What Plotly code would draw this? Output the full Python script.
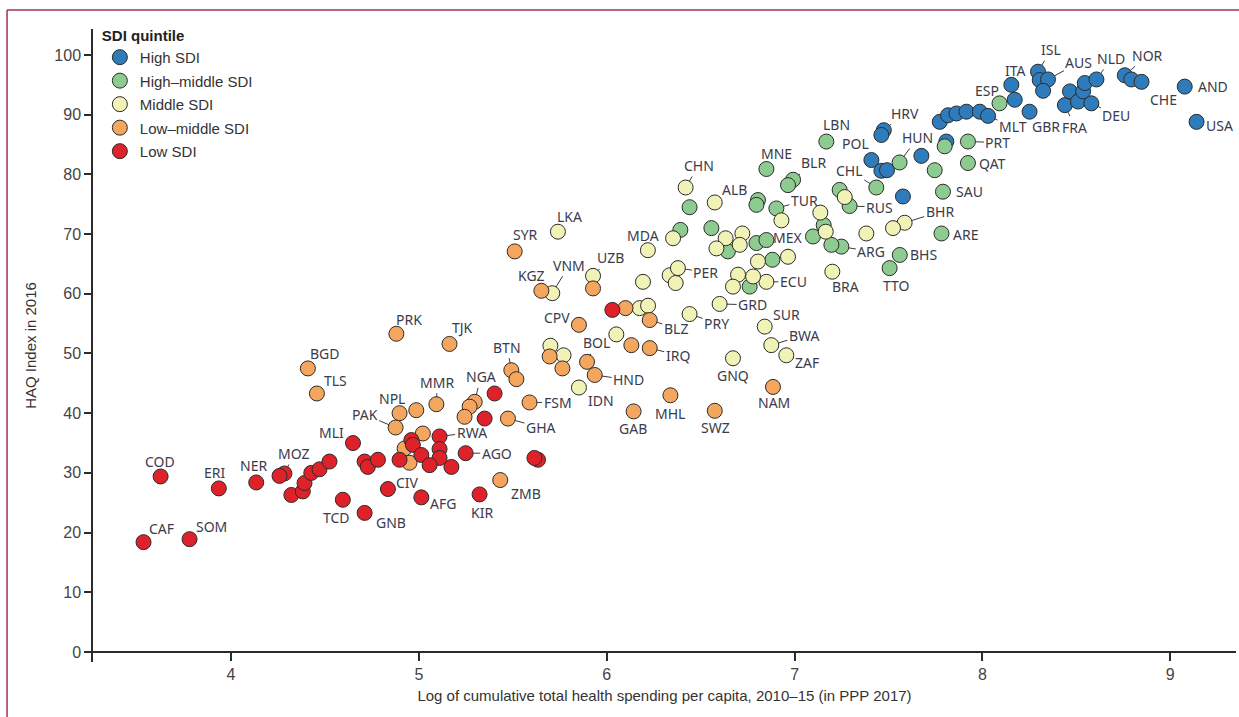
import plotly.graph_objects as go

# ---- HAQ Index vs. log cumulative health spending, by SDI quintile ----

high_codes = ["HRV", "", "POL", "", "", "", "", "", "", "", "", "", "", "MLT", "ITA", "", "GBR",
              "ISL", "", "AUS", "", "FRA", "", "", "", "", "DEU", "NLD", "NOR", "", "CHE", "AND", "USA"]
high_x = [7.475, 7.462, 7.409, 7.462, 7.492, 7.577, 7.675, 7.808, 7.773, 7.817, 7.862, 7.915, 7.986,
          8.030, 8.154, 8.172, 8.251, 8.296, 8.305, 8.349, 8.323, 8.439, 8.466, 8.509, 8.536, 8.545,
          8.580, 8.607, 8.758, 8.793, 8.847, 9.077, 9.140]
high_y = [87.4, 86.6, 82.4, 80.6, 80.7, 76.3, 83.1, 85.5, 88.8, 89.9, 90.2, 90.5, 90.5,
          89.8, 95.0, 92.5, 90.5, 97.2, 95.8, 95.9, 94.0, 91.6, 93.9, 92.2, 93.9, 95.3,
          91.9, 95.9, 96.6, 95.9, 95.5, 94.7, 88.8]

hm_codes = ["LBN", "MNE", "BLR", "", "", "", "TUR", "", "", "", "", "", "", "", "", "ARG", "",
            "", "", "CHL", "", "RUS", "HUN", "", "PRT", "QAT", "", "SAU", "ARE", "BHS", "TTO", "ESP"]
hm_x = [7.169, 6.850, 6.992, 6.965, 6.805, 6.797, 6.903, 6.441, 6.392, 6.557, 6.645, 6.797, 6.850,
        7.098, 7.155, 7.249, 7.196, 6.882, 6.761, 7.435, 7.240, 7.293, 7.559, 7.799, 7.923, 7.923,
        7.746, 7.790, 7.782, 7.560, 7.506, 8.091]
hm_y = [85.5, 80.9, 79.1, 78.2, 75.7, 74.9, 74.3, 74.5, 70.7, 71.0, 67.1, 68.5, 69.0,
        69.6, 71.5, 67.9, 68.2, 65.7, 61.2, 77.8, 77.4, 74.7, 82.0, 84.7, 85.5, 81.9,
        80.7, 77.1, 70.1, 66.5, 64.3, 91.9]

mid_codes = ["LKA", "VNM", "UZB", "", "", "IDN", "", "", "", "", "MDA", "", "CHN", "ALB", "", "PER",
             "", "PRY", "GRD", "GNQ", "SUR", "BWA", "ZAF", "", "", "", "", "", "MEX", "", "", "",
             "BRA", "ECU", "", "", "", "", "BHR", "", ""]
mid_x = [5.740, 5.710, 5.927, 5.700, 5.770, 5.852, 6.051, 6.175, 6.220, 6.193, 6.219, 6.353, 6.420,
         6.575, 6.335, 6.379, 6.367, 6.441, 6.601, 6.672, 6.841, 6.876, 6.956, 6.633, 6.584, 6.722,
         6.708, 6.805, 6.965, 6.930, 7.137, 7.166, 7.201, 6.850, 6.779, 6.699, 6.672, 7.267, 7.586,
         7.524, 7.382]
mid_y = [70.4, 60.1, 63.0, 51.3, 49.7, 44.3, 53.2, 57.6, 58.0, 62.0, 67.3, 69.3, 77.8,
         75.3, 63.1, 64.3, 61.8, 56.6, 58.3, 49.2, 54.5, 51.4, 49.7, 69.3, 67.6, 70.1,
         68.2, 65.4, 66.2, 72.3, 73.6, 70.4, 63.7, 62.0, 62.9, 63.2, 61.2, 76.2, 71.9,
         71.0, 70.1]

lm_codes = ["SYR", "KGZ", "", "CPV", "", "BLZ", "", "IRQ", "BOL", "HND", "", "", "BTN", "", "FSM",
            "GHA", "NGA", "", "", "MMR", "NPL", "", "PAK", "", "", "", "ZMB", "GAB", "MHL", "SWZ",
            "NAM", "PRK", "TJK", "BGD", "TLS"]
lm_x = [5.510, 5.652, 5.927, 5.852, 6.100, 6.229, 6.131, 6.229, 5.895, 5.936, 5.696, 5.764, 5.492,
        5.519, 5.589, 5.474, 5.297, 5.270, 5.243, 5.093, 4.897, 4.986, 4.876, 5.021, 4.924, 4.950,
        5.433, 6.143, 6.339, 6.575, 6.885, 4.880, 5.163, 4.409, 4.457]
lm_y = [67.1, 60.5, 60.9, 54.8, 57.6, 55.6, 51.4, 50.9, 48.6, 46.4, 49.5, 47.5, 47.2,
        45.7, 41.8, 39.1, 41.9, 41.1, 39.4, 41.5, 40.0, 40.5, 37.6, 36.6, 34.1, 31.7,
        28.8, 40.3, 43.0, 40.4, 44.4, 53.3, 51.6, 47.5, 43.3]

low_codes = ["CAF", "SOM", "COD", "ERI", "NER", "MOZ", "", "", "", "", "", "", "", "MLI", "", "", "",
             "TCD", "GNB", "CIV", "AFG", "KIR", "", "", "", "RWA", "", "", "", "", "", "AGO", "", "",
             "", "", ""]
low_x = [3.534, 3.779, 3.625, 3.935, 4.134, 4.284, 4.258, 4.321, 4.382, 4.391, 4.427, 4.471, 4.524,
         4.649, 4.711, 4.728, 4.782, 4.595, 4.711, 4.835, 5.013, 5.323, 4.897, 4.960, 4.968, 5.110,
         5.110, 5.110, 5.013, 5.057, 5.173, 5.249, 5.350, 5.403, 5.634, 5.615, 6.030]
low_y = [18.4, 18.9, 29.4, 27.4, 28.4, 29.9, 29.5, 26.3, 26.9, 28.3, 30.0, 30.6, 31.9,
         35.0, 31.9, 31.0, 32.2, 25.5, 23.3, 27.3, 25.9, 26.4, 32.2, 35.5, 34.7, 36.1,
         34.0, 32.5, 33.0, 31.3, 31.0, 33.3, 39.1, 43.3, 32.2, 32.5, 57.3]

groups = [
    ("High SDI", "#2e7cbc", high_codes, high_x, high_y),
    ("High\u2013middle SDI", "#8ecb90", hm_codes, hm_x, hm_y),
    ("Middle SDI", "#f1f3b6", mid_codes, mid_x, mid_y),
    ("Low\u2013middle SDI", "#f5a65e", lm_codes, lm_x, lm_y),
    ("Low SDI", "#df2229", low_codes, low_x, low_y),
]

# label placement: pixel offset of the label centre from its point, and whether a leader is drawn
label_style = {
    "AND": (28, 0, False), "USA": (23, 4, False), "CHE": (22, 18, True), "NOR": (23, -20, True),
    "NLD": (15, -21, True), "AUS": (31, -17, True), "ISL": (13, -22, True), "ITA": (4, -14, False),
    "ESP": (-13, -13, True), "MLT": (25, 11, True), "GBR": (16, 15, True), "FRA": (10, 22, True),
    "DEU": (25, 12, True), "HRV": (21, -17, True), "POL": (-16, -17, True), "HUN": (18, -25, True),
    "PRT": (30, 1, True), "QAT": (25, 0, False), "SAU": (27, 0, False), "ARE": (24, 1, False),
    "BHR": (35, -11, True), "BHS": (24, 0, False), "TTO": (7, 17, False), "BRA": (13, 15, False),
    "ARG": (30, 5, True), "RUS": (30, 1, True), "CHL": (-27, -17, True), "LBN": (10, -17, False),
    "MNE": (10, -16, False), "BLR": (20, -17, True), "TUR": (28, -8, True), "MEX": (-1, -19, True),
    "ECU": (27, 0, True), "ALB": (20, -13, False), "CHN": (13, -22, True), "MDA": (-5, -15, False),
    "LKA": (12, -15, False), "SYR": (11, -17, False), "KGZ": (-10, -15, False), "VNM": (17, -28, True),
    "UZB": (17, -18, True), "PER": (28, 4, True), "CPV": (-22, -7, False), "BLZ": (26, 8, True),
    "PRY": (27, 9, True), "GRD": (33, 1, True), "IRQ": (28, 7, True), "BOL": (9, -19, True),
    "HND": (34, 5, True), "GNQ": (0, 17, False), "SUR": (22, -12, False), "BWA": (33, -10, True),
    "ZAF": (21, 7, True), "NAM": (1, 16, False), "SWZ": (1, 17, False), "MHL": (0, 18, False),
    "GAB": (-1, 17, False), "IDN": (22, 13, False), "FSM": (28, 0, True), "GHA": (33, 9, True),
    "BTN": (-4, -23, True), "NGA": (6, -25, True), "MMR": (1, -22, True), "NPL": (-8, -15, False),
    "PAK": (-31, -13, True), "RWA": (32, -4, True), "AGO": (31, 0, True), "KIR": (2, 18, False),
    "AFG": (22, 6, False), "ZMB": (26, 13, False), "CIV": (20, -7, False), "GNB": (26, 10, False),
    "TCD": (-6, 18, False), "MLI": (-21, -11, False), "MOZ": (10, -20, True), "NER": (-3, -17, False),
    "ERI": (-4, -16, False), "COD": (-1, -15, False), "CAF": (18, -14, False), "SOM": (22, -13, False),
    "PRK": (13, -14, False), "TJK": (13, -16, False), "BGD": (17, -15, False), "TLS": (19, -13, False),
}

fig = go.Figure()
annotations = []
for name, colour, codes, xs, ys in groups:
    fig.add_trace(go.Scatter(
        x=xs, y=ys, mode="markers", name=name, text=codes, legendgroup=name,
        marker=dict(size=15, color=colour, line=dict(color="#2b2b2b", width=1)),
        hoverinfo="text+x+y",
    ))
    for code, xv, yv in zip(codes, xs, ys):
        if not code:
            continue
        ax, ay, leader = label_style[code]
        annotations.append(dict(
            x=xv, y=yv, xref="x", yref="y", text=code, showarrow=True,
            ax=ax, ay=ay, arrowhead=0, arrowwidth=1, standoff=7,
            arrowcolor="#3a3a3a" if leader else "rgba(0,0,0,0)",
            font=dict(family="Noto Sans, Open Sans, sans-serif", size=14, color="#3b3b4a"),
        ))

# plot area spans 93..1236 px horizontally and 29..662 px vertically
x_range = [3.265, 9.35]
y_range = [-1.675, 104.35]
zero_pos = (0 - y_range[0]) / (y_range[1] - y_range[0])

axis_font = dict(family="Liberation Sans, Arial, sans-serif", size=15, color="#333333")

fig.update_layout(
    width=1239, height=717,
    margin=dict(l=93, r=3, t=29, b=55),
    paper_bgcolor="white", plot_bgcolor="white",
    showlegend=True,
    legend=dict(
        title=dict(text="<b>SDI quintile</b>", font=dict(family="Liberation Sans, Arial, sans-serif", size=15, color="#222")),
        x=0.006, y=1.012, xanchor="left", yanchor="top", tracegroupgap=1,
        font=dict(family="Liberation Sans, Arial, sans-serif", size=15, color="#333"),
        bgcolor="rgba(255,255,255,0)", itemsizing="trace",
    ),
    annotations=annotations,
    xaxis=dict(
        range=x_range, tickvals=[4, 5, 6, 7, 8, 9], showgrid=False, zeroline=False,
        showline=True, linecolor="#2b2b2b", linewidth=1.5,
        ticks="outside", ticklen=8, tickwidth=1.5, tickcolor="#2b2b2b",
        tickfont=dict(family="Liberation Sans, Arial, sans-serif", size=16, color="#444"),
        anchor="free", position=zero_pos,
        title=dict(text="Log of cumulative total health spending per capita, 2010\u201315 (in PPP 2017)",
                   font=axis_font, standoff=8),
    ),
    yaxis=dict(
        range=y_range, tickvals=list(range(0, 101, 10)), showgrid=False, zeroline=False,
        showline=True, linecolor="#2b2b2b", linewidth=1.5,
        ticks="outside", ticklen=7, tickwidth=1.5, tickcolor="#2b2b2b",
        tickfont=dict(family="Liberation Sans, Arial, sans-serif", size=16, color="#444"),
        title=dict(text="HAQ Index in 2016", font=axis_font, standoff=14),
    ),
    shapes=[
        dict(type="line", xref="paper", yref="paper", x0=-0.0752, x1=-0.0752, y0=1.03, y1=-0.1,
             line=dict(color="#a0305c", width=1.5)),
        dict(type="line", xref="paper", yref="paper", x0=-0.0752, x1=1.01, y0=1.03, y1=1.03,
             line=dict(color="#a0305c", width=1.5)),
    ],
)

fig.write_html("out.html")
